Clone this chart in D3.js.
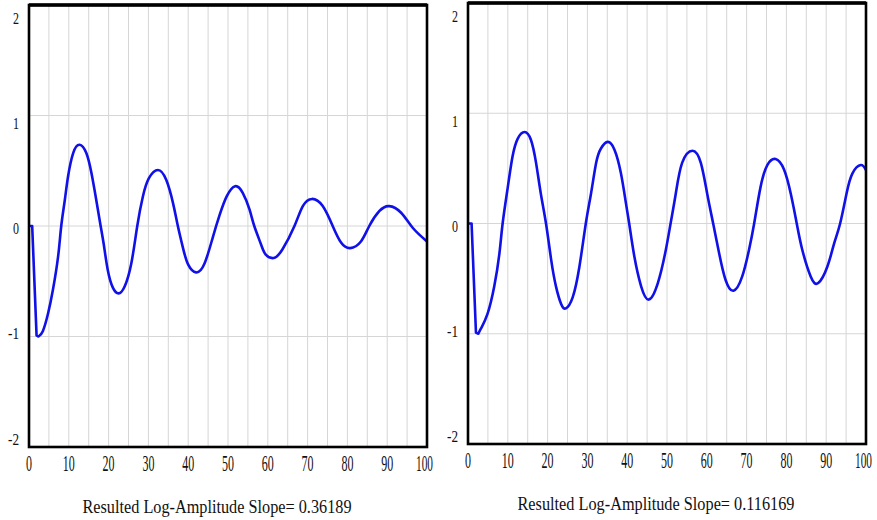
<!DOCTYPE html>
<html>
<head>
<meta charset="utf-8">
<script src="https://cdn.jsdelivr.net/npm/d3@7"></script>
<style>
  body { margin: 0; background: #fff; }
  svg { display: block; }
  svg text { font-family: "Liberation Serif", "DejaVu Serif", serif; fill: #111; }
</style>
</head>
<body>
<div id="chart"></div>
<script>
// values
const xTicks = [0, 10, 20, 30, 40, 50, 60, 70, 80, 90, 100];
const yTicks = [-2, -1, 0, 1, 2];

const leftT = [0, 0.8, 1.9, 2.4, 3.5, 4.8, 6.0, 7.3, 8.1, 9.0, 9.8, 11.1, 12.7, 14.4, 15.7, 16.9, 18.0, 18.8, 19.8, 21.1,
  22.5, 24.0, 25.7, 27.2, 28.6, 30.1, 32.4, 34.5, 36.2, 37.4, 38.7, 40.0, 42.0, 44.1, 46.2, 47.9, 49.7, 51.8, 53.7,
  55.4, 56.6, 58.3, 59.5, 61.5, 63.7, 66.7, 68.8, 71.1, 73.8, 76.3, 78.4, 80.7, 83.4, 85.5, 88.0, 90.5, 93.5, 96.4, 100];
const leftV = [0, 0, -0.99, -1.0, -0.95, -0.79, -0.58, -0.28, 0, 0.235, 0.446, 0.66, 0.735, 0.66, 0.477, 0.235, 0, -0.17, -0.40, -0.56,
  -0.61, -0.55, -0.34, 0, 0.265, 0.43, 0.507, 0.416, 0.205, 0, -0.2, -0.35, -0.42, -0.34, -0.1, 0.1, 0.27, 0.36, 0.30,
  0.15, 0, -0.167, -0.26, -0.29, -0.21, 0, 0.18, 0.245, 0.18, 0, -0.15, -0.2, -0.14, 0, 0.134, 0.18, 0.12, -0.016, -0.14];

const rightT = [0, 0.9, 2.0, 2.6, 3.3, 4.9, 6.6, 7.9, 8.7, 10.0, 11.2, 12.5, 14.2, 15.8, 17.1, 18.3, 19.6, 20.9, 22.1, 23.4,
  24.6, 26.3, 28.0, 29.6, 30.9, 32.2, 33.4, 35.1, 36.8, 38.4, 39.7, 40.5, 41.8, 43.5, 45.4, 47.7, 49.7, 50.9, 52.2,
  53.8, 56.4, 58.5, 60.1, 61.6, 63.1, 64.7, 66.7, 68.9, 70.6, 71.9, 73.5, 75.2, 77.3, 79.4, 81.1, 82.6, 84.0, 86.1,
  88.0, 90.3, 92.0, 93.5, 95.1, 96.6, 98.7, 100];
const rightV = [0, 0, -0.99, -1.0, -0.95, -0.82, -0.57, -0.27, 0, 0.33, 0.61, 0.77, 0.83, 0.76, 0.55, 0.27, 0, -0.33, -0.57, -0.73,
  -0.77, -0.67, -0.39, 0, 0.27, 0.55, 0.68, 0.74, 0.67, 0.46, 0.18, 0, -0.30, -0.57, -0.69, -0.54, -0.24, 0, 0.27,
  0.55, 0.66, 0.55, 0.27, 0, -0.27, -0.51, -0.61, -0.48, -0.24, 0, 0.33, 0.53, 0.585, 0.49, 0.27, 0, -0.24, -0.48,
  -0.54, -0.39, -0.18, 0, 0.27, 0.455, 0.53, 0.485];

const captions = ["Resulted Log-Amplitude Slope= 0.36189", "Resulted Log-Amplitude Slope= 0.116169"];

const width = 877, height = 520;
const svg = d3.select("#chart").append("svg")
    .attr("width", width)
    .attr("height", height);

const panels = [
  { x0: 29, x1: 427, y0: 5, y1: 447, t: leftT, v: leftV, caption: captions[0], capW: 269 },
  { x0: 468, x1: 866, y0: 3, y1: 444, t: rightT, v: rightV, caption: captions[1], capW: 277 }
];

panels.forEach(p => {
    const x = d3.scaleLinear().domain([0, 100]).range([p.x0, p.x1]);
    const y = d3.scaleLinear().domain([-2, 2]).range([p.y1, p.y0]);
    // tick labels sit inset from the ends
    const yLab = d3.scaleLinear().domain([-2, 2]).range([p.y1 - 8, p.y0 + 13]);

    const g = svg.append("g");

    // grid
    g.selectAll("line.vgrid")
        .data(d3.range(5, 100, 5))
        .enter().append("line")
        .attr("x1", d => x(d)).attr("x2", d => x(d))
        .attr("y1", p.y0).attr("y2", p.y1)
        .attr("stroke", "#d6d6d6").attr("stroke-width", 1);

    g.selectAll("line.hgrid")
        .data([-1, 0, 1])
        .enter().append("line")
        .attr("x1", p.x0).attr("x2", p.x1)
        .attr("y1", d => y(d)).attr("y2", d => y(d))
        .attr("stroke", "#d6d6d6").attr("stroke-width", 1);

    // curve: straight kick at the start, smooth spline after the first minimum
    const pts = p.t.map((t, i) => [t, p.v[i]]);
    const kick = pts.findIndex(d => d[1] === -1.0);
    const line = d3.line().x(d => x(d[0])).y(d => y(d[1]));
    const path = d3.path();
    line.context(path).curve(d3.curveLinear)(pts.slice(0, kick + 1));
    const tail = d3.path();
    line.context(tail).curve(d3.curveNatural)(pts.slice(kick));
    g.append("path")
        .attr("fill", "none")
        .attr("stroke", "#1010e8")
        .attr("stroke-width", 2.6)
        .attr("stroke-linejoin", "round")
        .attr("d", path.toString() + tail.toString().replace(/^M[^A-Za-z]*/, m => "L" + m.slice(1)));

    // frame
    g.append("rect")
        .attr("x", p.x0).attr("y", p.y0)
        .attr("width", p.x1 - p.x0).attr("height", p.y1 - p.y0)
        .attr("fill", "none").attr("stroke", "#000").attr("stroke-width", 2.6);
    g.append("line")
        .attr("x1", p.x0).attr("x2", p.x1)
        .attr("y1", p.y0).attr("y2", p.y0)
        .attr("stroke", "#000").attr("stroke-width", 3.4);

    // x labels
    g.selectAll("text.xl")
        .data(xTicks)
        .enter().append("text")
        .attr("x", d => d === 100 ? x(d) + 6 : x(d))
        .attr("y", p.y1 + 24)
        .attr("text-anchor", d => d === 100 ? "end" : "middle")
        .attr("font-size", 23)
        .attr("textLength", d => String(d).length * 6 - (d === 100 ? 1 : 0))
        .attr("lengthAdjust", "spacingAndGlyphs")
        .text(d => d);

    // y labels
    g.selectAll("text.yl")
        .data(yTicks)
        .enter().append("text")
        .attr("x", p.x0 - 10)
        .attr("y", d => yLab(d))
        .attr("dy", "0.35em")
        .attr("text-anchor", "end")
        .attr("font-size", 16)
        .attr("textLength", d => d < 0 ? 11 : 6)
        .attr("lengthAdjust", "spacingAndGlyphs")
        .text(d => d);

    // caption
    g.append("text")
        .attr("x", (p.x0 + p.x1) / 2 - 11)
        .attr("y", p.y1 + 66)
        .attr("text-anchor", "middle")
        .attr("font-size", 19)
        .attr("textLength", p.capW)
        .attr("lengthAdjust", "spacingAndGlyphs")
        .text(p.caption);
});
</script>
</body>
</html>
